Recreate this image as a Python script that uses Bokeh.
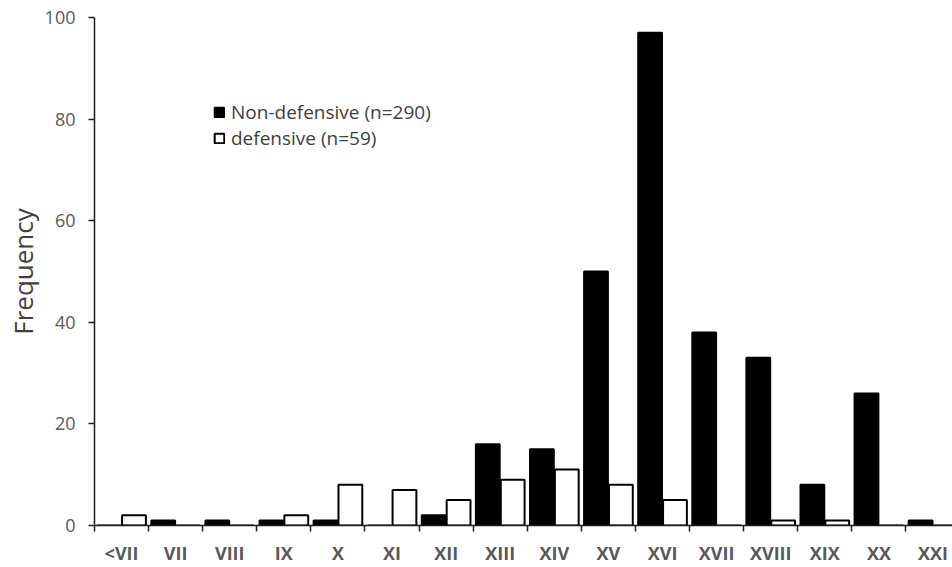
from bokeh.plotting import figure
from bokeh.models import (Range1d, FixedTicker, CustomJSTickFormatter, Legend, LegendItem,
                          ColumnDataSource)
from bokeh.embed import file_html
from bokeh.resources import INLINE
import numpy as np

categories = ["<VII", "VII", "VIII", "IX", "X", "XI", "XII", "XIII", "XIV", "XV",
              "XVI", "XVII", "XVIII", "XIX", "XX", "XXI"]
non_defensive = [0, 1, 1, 1, 1, 0, 2, 16, 15, 50, 97, 38, 33, 8, 26, 1]
defensive = [2, 0, 0, 2, 8, 7, 5, 9, 11, 8, 5, 0, 1, 1, 0, 0]
y_ticks = [0, 20, 40, 60, 80, 100]

idx = np.arange(len(categories))
src = ColumnDataSource(dict(
    x_nd=idx + 0.27, x_d=idx + 0.73,
    nd=non_defensive, d=defensive, cat=categories,
))

p = figure(width=952, height=567, output_backend="svg", toolbar_location=None,
           x_range=Range1d(0, 15.86), y_range=Range1d(0, 100),
           min_border_left=94, min_border_right=0, min_border_top=17, min_border_bottom=42)
p.outline_line_color = None
p.xgrid.visible = False
p.ygrid.visible = False
p.background_fill_color = "white"

r_nd = p.vbar(x="x_nd", width=0.44, top="nd", bottom=0, source=src,
              fill_color="black", line_color="black", line_width=2)
r_d = p.vbar(x="x_d", width=0.44, top="d", bottom=0, source=src,
             fill_color="white", line_color="black", line_width=2)

axis_color = "#1e1e1e"
label_color = "#595959"

# x axis: labels at category centres, ticks at boundaries
xa = p.xaxis[0]
xa.ticker = FixedTicker(ticks=list(idx + 0.5), minor_ticks=list(range(len(categories) + 1)))
xa.formatter = CustomJSTickFormatter(args=dict(labels=categories),
                                     code="return labels[Math.floor(tick)] || '';")
xa.major_tick_line_color = None
xa.major_tick_in = 0
xa.major_tick_out = 0
xa.minor_tick_in = 0
xa.minor_tick_out = 6
xa.minor_tick_line_color = axis_color
xa.minor_tick_line_width = 1.5
xa.axis_line_color = axis_color
xa.axis_line_width = 1.5
xa.major_label_text_font = "Open Sans"
xa.major_label_text_font_style = "bold"
xa.major_label_text_font_size = "18px"
xa.major_label_text_color = label_color
xa.major_label_standoff = 9

ya = p.yaxis[0]
ya.ticker = FixedTicker(ticks=y_ticks)
ya.minor_tick_line_color = None
ya.major_tick_in = 0
ya.major_tick_out = 6
ya.major_tick_line_color = axis_color
ya.major_tick_line_width = 1.5
ya.axis_line_color = axis_color
ya.axis_line_width = 1.5
ya.major_label_text_font = "Open Sans"
ya.major_label_text_font_size = "18px"
ya.major_label_text_color = label_color
ya.major_label_standoff = 13
ya.axis_label = "Frequency"
ya.axis_label_text_font = "Open Sans"
ya.axis_label_text_font_style = "normal"
ya.axis_label_text_font_size = "26px"
ya.axis_label_text_color = "#404040"
ya.axis_label_standoff = 1

legend = Legend(items=[LegendItem(label="Non-defensive (n=290)", renderers=[r_nd]),
                       LegendItem(label="defensive (n=59)", renderers=[r_d])],
                location=(119, 374), orientation="vertical",
                glyph_width=12, glyph_height=12, label_standoff=6,
                label_height=25, spacing=0, padding=0, margin=0,
                border_line_color=None, background_fill_alpha=0,
                label_text_font="Open Sans", label_text_font_size="19px",
                label_text_color="#404040")
p.add_layout(legend)

open("out.html", "w").write(file_html(p, INLINE))
